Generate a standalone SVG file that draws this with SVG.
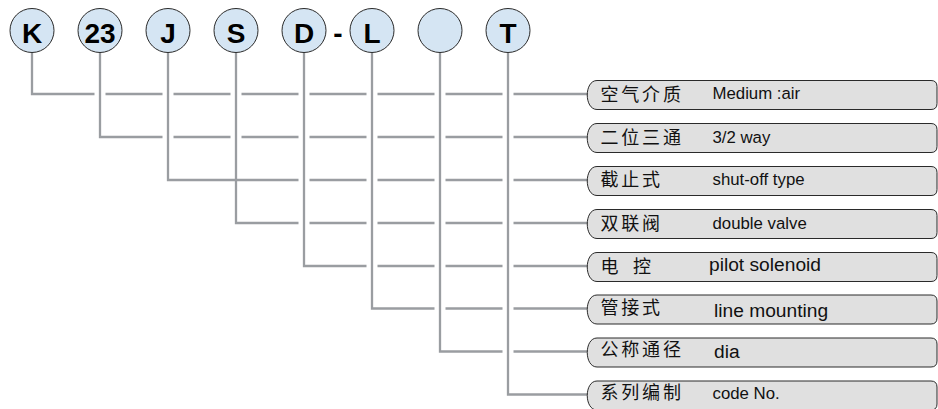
<svg xmlns="http://www.w3.org/2000/svg" xmlns:xlink="http://www.w3.org/1999/xlink" width="938" height="409" viewBox="0 0 938 409">
<style>
.c{fill:#d5e5f3;stroke:#2a2a2a;stroke-width:1}
.ct{font-family:"Liberation Sans",Arial,sans-serif;font-weight:bold;font-size:28px;fill:#000;text-anchor:middle}
.pill{fill:#e0e0e0;stroke:#2a2a2a;stroke-width:1}
.zh{font-family:"Liberation Sans","Noto Sans CJK SC",sans-serif;font-size:18px;letter-spacing:2.8px;fill:#111}
.en{font-family:"Liberation Sans",Arial,sans-serif;font-size:16.8px;fill:#111}
.enb{font-family:"Liberation Sans",Arial,sans-serif;font-size:19.2px;fill:#111}
.ln{fill:none;stroke:#9a9da1;stroke-width:2.3;stroke-linejoin:miter}
</style>
<defs>
<path id="pillshape" d="M597 -13.5 H931 Q937 -13.5 937 -7.5 V9.5 Q937 15.5 931 15.5 H597 C584 15.5 584 -13.5 597 -13.5 Z"/>
</defs>
<g id="connectors" class="ln">
<path d="M32 52.5 V94 H94.5 M105.5 94 H162.5 M173.5 94 H230.5 M241.5 94 H298.5 M309.5 94 H366.5 M377.5 94 H434.5 M445.5 94 H502.5 M513.5 94 H588"/>
<path d="M100 52.5 V137 H162.5 M173.5 137 H230.5 M241.5 137 H298.5 M309.5 137 H366.5 M377.5 137 H434.5 M445.5 137 H502.5 M513.5 137 H588"/>
<path d="M168 52.5 V180 H298.5 M309.5 180 H366.5 M377.5 180 H434.5 M445.5 180 H502.5 M513.5 180 H588"/>
<path d="M236 52.5 V223 H298.5 M309.5 223 H366.5 M377.5 223 H434.5 M445.5 223 H502.5 M513.5 223 H588"/>
<path d="M304 52.5 V266 H366.5 M377.5 266 H434.5 M445.5 266 H502.5 M513.5 266 H588"/>
<path d="M372 52.5 V308.5 H434.5 M445.5 308.5 H502.5 M513.5 308.5 H588"/>
<path d="M440 52.5 V351.5 H502.5 M513.5 351.5 H588"/>
<path d="M508 52.5 V394.5 H588"/>
</g>
<g id="code-K"><circle class="c" cx="32" cy="30.5" r="22"/><text class="ct" x="32" y="42.5">K</text></g>
<g id="code-23"><circle class="c" cx="100" cy="30.5" r="22"/><text class="ct" x="100" y="42.5" font-size="29">23</text></g>
<g id="code-J"><circle class="c" cx="168" cy="30.5" r="22"/><text class="ct" x="168" y="42.5">J</text></g>
<g id="code-S"><circle class="c" cx="236" cy="30.5" r="22"/><text class="ct" x="236" y="42.5">S</text></g>
<g id="code-D"><circle class="c" cx="304" cy="30.5" r="22"/><text class="ct" x="304" y="42.5">D</text></g>
<g id="dash"><text class="ct" x="338" y="42.5">-</text></g>
<g id="code-L"><circle class="c" cx="372" cy="30.5" r="22"/><text class="ct" x="372" y="42.5">L</text></g>
<g id="code-blank"><circle class="c" cx="440" cy="30.5" r="22"/></g>
<g id="code-T"><circle class="c" cx="508" cy="30.5" r="22"/><text class="ct" x="508" y="42.5">T</text></g>

<g id="label-medium"><use href="#pillshape" class="pill" transform="translate(0,94)"/><text class="zh" x="600.5" y="101">空气介质</text><text class="en" x="712.5" y="99.3">Medium :air</text></g>
<g id="label-way"><use href="#pillshape" class="pill" transform="translate(0,137)"/><text class="zh" x="600.5" y="143.5">二位三通</text><text class="en" x="712.5" y="142.7">3/2 way</text></g>
<g id="label-shutoff"><use href="#pillshape" class="pill" transform="translate(0,180)"/><text class="zh" x="600.5" y="186">截止式</text><text class="en" x="712.5" y="185">shut-off type</text></g>
<g id="label-double"><use href="#pillshape" class="pill" transform="translate(0,223)"/><text class="zh" x="600.5" y="230">双联阀</text><text class="en" x="712.5" y="228.5">double valve</text></g>
<g id="label-pilot"><use href="#pillshape" class="pill" transform="translate(0,266)"/><text class="zh" x="600.5" y="272.5" word-spacing="4">电 控</text><text class="enb" x="709" y="270.5">pilot solenoid</text></g>
<g id="label-line"><use href="#pillshape" class="pill" transform="translate(0,308.5)"/><text class="zh" x="600.5" y="313.5">管接式</text><text class="enb" x="714" y="316.7">line mounting</text></g>
<g id="label-dia"><use href="#pillshape" class="pill" transform="translate(0,351.5)"/><text class="zh" x="600.5" y="356">公称通径</text><text class="enb" x="714" y="358.3">dia</text></g>
<g id="label-code"><use href="#pillshape" class="pill" transform="translate(0,394.5)"/><text class="zh" x="600.5" y="399">系列编制</text><text class="en" x="712.5" y="399.3">code No.</text></g>
</svg>
